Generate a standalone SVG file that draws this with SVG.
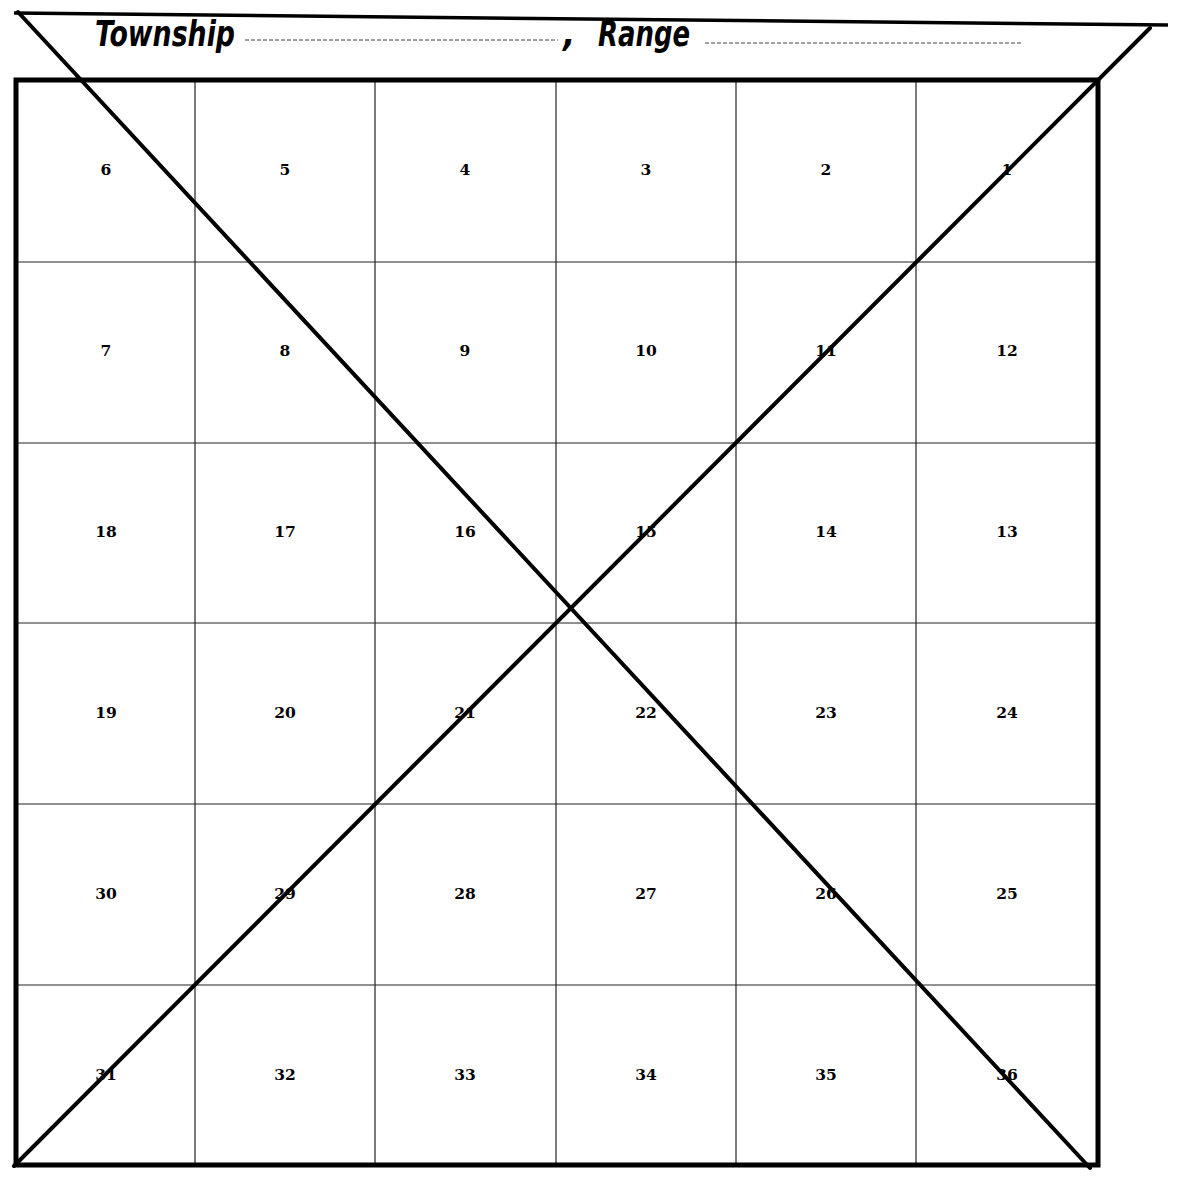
<svg xmlns="http://www.w3.org/2000/svg" width="1178" height="1180" viewBox="0 0 1178 1180">
<style>
.grid{stroke:#222;stroke-width:1.2;fill:none}
.frame{stroke:#000;stroke-width:5;fill:none}
.diag{stroke:#000;stroke-width:4;stroke-linecap:round;fill:none}
.hdr{stroke:#000;stroke-width:3.5;fill:none}
.dots{stroke:#444;stroke-width:1;stroke-dasharray:4 2;fill:none}
.num{font-family:"DejaVu Serif","Liberation Serif",serif;font-weight:bold;font-size:15.5px;text-anchor:middle;fill:#000}
.title{font-family:"DejaVu Sans","Liberation Sans",sans-serif;font-style:italic;font-weight:bold;font-stretch:condensed;font-size:36px;fill:#000}
</style>
<rect width="1178" height="1180" fill="#fff"/>
<g id="header">
<line class="hdr" x1="14" y1="13" x2="1168" y2="25"/>
<text class="title" x="95" y="46" textLength="140" lengthAdjust="spacingAndGlyphs">Township</text>
<line class="dots" x1="245" y1="40" x2="558" y2="40"/>
<text class="title" x="563" y="46" font-size="30">,</text>
<text class="title" x="598" y="46" textLength="92" lengthAdjust="spacingAndGlyphs">Range</text>
<line class="dots" x1="705" y1="43" x2="1022" y2="43"/>
</g>
<g id="grid">
<line class="grid" x1="195" y1="80" x2="195" y2="1165"/>
<line class="grid" x1="375" y1="80" x2="375" y2="1165"/>
<line class="grid" x1="556" y1="80" x2="556" y2="1165"/>
<line class="grid" x1="736" y1="80" x2="736" y2="1165"/>
<line class="grid" x1="916" y1="80" x2="916" y2="1165"/>
<line class="grid" x1="16" y1="262" x2="1098" y2="262"/>
<line class="grid" x1="16" y1="443" x2="1098" y2="443"/>
<line class="grid" x1="16" y1="623" x2="1098" y2="623"/>
<line class="grid" x1="16" y1="804" x2="1098" y2="804"/>
<line class="grid" x1="16" y1="985" x2="1098" y2="985"/>
<rect class="frame" x="16" y="80" width="1082" height="1085"/>
</g>
<g id="sections">
<g id="s6"><text class="num" x="106" y="175">6</text></g>
<g id="s5"><text class="num" x="285" y="175">5</text></g>
<g id="s4"><text class="num" x="465" y="175">4</text></g>
<g id="s3"><text class="num" x="646" y="175">3</text></g>
<g id="s2"><text class="num" x="826" y="175">2</text></g>
<g id="s1"><text class="num" x="1007" y="175">1</text></g>
<g id="s7"><text class="num" x="106" y="356">7</text></g>
<g id="s8"><text class="num" x="285" y="356">8</text></g>
<g id="s9"><text class="num" x="465" y="356">9</text></g>
<g id="s10"><text class="num" x="646" y="356">10</text></g>
<g id="s11"><text class="num" x="826" y="356">11</text></g>
<g id="s12"><text class="num" x="1007" y="356">12</text></g>
<g id="s18"><text class="num" x="106" y="537">18</text></g>
<g id="s17"><text class="num" x="285" y="537">17</text></g>
<g id="s16"><text class="num" x="465" y="537">16</text></g>
<g id="s15"><text class="num" x="646" y="537">15</text></g>
<g id="s14"><text class="num" x="826" y="537">14</text></g>
<g id="s13"><text class="num" x="1007" y="537">13</text></g>
<g id="s19"><text class="num" x="106" y="718">19</text></g>
<g id="s20"><text class="num" x="285" y="718">20</text></g>
<g id="s21"><text class="num" x="465" y="718">21</text></g>
<g id="s22"><text class="num" x="646" y="718">22</text></g>
<g id="s23"><text class="num" x="826" y="718">23</text></g>
<g id="s24"><text class="num" x="1007" y="718">24</text></g>
<g id="s30"><text class="num" x="106" y="899">30</text></g>
<g id="s29"><text class="num" x="285" y="899">29</text></g>
<g id="s28"><text class="num" x="465" y="899">28</text></g>
<g id="s27"><text class="num" x="646" y="899">27</text></g>
<g id="s26"><text class="num" x="826" y="899">26</text></g>
<g id="s25"><text class="num" x="1007" y="899">25</text></g>
<g id="s31"><text class="num" x="106" y="1080">31</text></g>
<g id="s32"><text class="num" x="285" y="1080">32</text></g>
<g id="s33"><text class="num" x="465" y="1080">33</text></g>
<g id="s34"><text class="num" x="646" y="1080">34</text></g>
<g id="s35"><text class="num" x="826" y="1080">35</text></g>
<g id="s36"><text class="num" x="1007" y="1080">36</text></g>
</g>
<g id="connectors">
<line class="diag" x1="18" y1="12" x2="1090" y2="1168"/>
<line class="diag" x1="14" y1="1166" x2="1150" y2="28"/>
</g>
</svg>
